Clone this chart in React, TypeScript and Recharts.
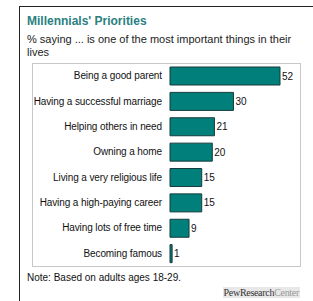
import { BarChart, Bar, XAxis, YAxis, LabelList } from 'recharts'

const priorities = [
    'Being a good parent',
    'Having a successful marriage',
    'Helping others in need',
    'Owning a home',
    'Living a very religious life',
    'Having a high-paying career',
    'Having lots of free time',
    'Becoming famous',
]
const percents = [52, 30, 21, 20, 15, 15, 9, 1]

const data = priorities.map((name, i) => ({ name, value: percents[i] }))

const TEAL = '#007f7b'

// plain single-line tick so long labels don't wrap
const CategoryTick = (props: any) => {
    const { x, y, payload } = props
    return (
        <text x={x} y={y} dy={3.5} textAnchor="end" fontSize={10} fill="#111" letterSpacing={-0.1}
            fontFamily='"Liberation Sans", Arial, sans-serif'>
            {payload.value}
        </text>
    )
}

export default function App() {
    return (
        <div style={{ position: 'absolute', left: 0, top: 0, width: 313, height: 301, background: '#fff', fontFamily: '"Liberation Sans", Arial, sans-serif' }}>
            {/* outer frame: top and left rules */}
            <div style={{ position: 'absolute', left: 19, top: 6, width: 294, height: 295, borderTop: '1px solid #222', borderLeft: '1px solid #222' }} />
            <div style={{ position: 'absolute', left: 27, top: 14, fontSize: 12, fontWeight: 'bold', color: '#2a8080' }}>
                Millennials' Priorities
            </div>
            <div style={{ position: 'absolute', left: 27, top: 33, width: 280, fontSize: 11, lineHeight: '13px', color: '#222' }}>
                % saying ... is one of the most important things in their lives
            </div>
            <div style={{ position: 'absolute', left: 32, top: 63, width: 267, height: 202, border: '1px solid #c8c8c8' }} />
            <div style={{ position: 'absolute', left: 32, top: 63 }}>
                <BarChart
                    width={268}
                    height={203}
                    data={data}
                    layout="vertical"
                    margin={{ top: 0, right: 20, bottom: 0, left: 0 }}
                    barSize={18}
                >
                    <XAxis type="number" hide domain={[0, 'dataMax']} />
                    <YAxis
                        type="category"
                        dataKey="name"
                        width={138}
                        axisLine={false}
                        tickLine={false}
                        tick={<CategoryTick />}
                        interval={0}
                    />
                    <Bar dataKey="value" fill={TEAL} stroke="#173c3c" strokeWidth={1} isAnimationActive={false}>
                        <LabelList dataKey="value" position="right" offset={2} style={{ fontSize: 10, fill: '#111' }} />
                    </Bar>
                </BarChart>
            </div>
            <div style={{ position: 'absolute', left: 27, top: 272, fontSize: 10, color: '#111' }}>
                Note: Based on adults ages 18-29.
            </div>
            <div style={{ position: 'absolute', right: 13, top: 287, fontSize: 10, fontFamily: '"Liberation Serif", serif', background: '#e8e8e8', padding: '0 1px', letterSpacing: -0.3 }}>
                <span style={{ color: '#333' }}>PewResearch</span>
                <span style={{ color: '#999' }}>Center</span>
            </div>
        </div>
    )
}
